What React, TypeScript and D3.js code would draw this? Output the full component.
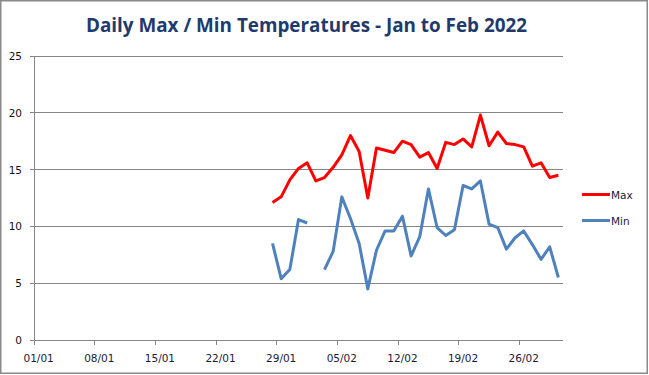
import React from "react";
import * as d3 from "d3";

const startDate = "2022-01-28";
const maxTemps: number[] = [
  12.1, 12.6, 14.1, 15.1, 15.6, 14.0, 14.3, 15.2, 16.3, 18.0, 16.6, 12.5, 16.9, 16.7, 16.5,
  17.5, 17.2, 16.1, 16.5, 15.1, 17.4, 17.2, 17.7, 17.0, 19.8, 17.1, 18.3, 17.3, 17.2, 17.0,
  15.3, 15.6, 14.3, 14.5,
];
const minTemps: (number | null)[] = [
  8.5, 5.4, 6.2, 10.6, 10.3, null, 6.2, 7.8, 12.6, 10.7, 8.5, 4.5, 7.9, 9.6, 9.6,
  10.9, 7.4, 9.1, 13.3, 9.9, 9.2, 9.7, 13.6, 13.3, 14.0, 10.2, 9.9, 8.0, 9.0, 9.6,
  8.4, 7.1, 8.2, 5.5,
];
const yTicks = [0, 5, 10, 15, 20, 25];
const xTickLabels = ["01/01", "08/01", "15/01", "22/01", "29/01", "05/02", "12/02", "19/02", "26/02"];
const title = "Daily Max / Min Temperatures - Jan to Feb 2022";

const W = 649;
const H = 375;
const left = 34.3;
const right = 562.7;
const top = 56;
const bottom = 340;

const axisStart = new Date(2022, 0, 1);
const axisEnd = new Date(2022, 2, 3);
const DAY = 86400000;

export default function App() {
  const x = d3.scaleTime().domain([axisStart, axisEnd]).range([left, right]);
  const y = d3.scaleLinear().domain([0, 25]).range([bottom, top]);
  const s = d3.timeParse("%Y-%m-%d")(startDate) as Date;
  const dates = maxTemps.map((_, i) => new Date(s.getFullYear(), s.getMonth(), s.getDate() + i));
  const cx = (d: Date) => x(new Date(d.getTime() + DAY / 2));
  const parseLabel = (l: string) => {
    const [dd, mm] = l.split("/").map(Number);
    return new Date(2022, mm - 1, dd);
  };
  const lineMax = d3
    .line<number>()
    .x((_, i) => cx(dates[i]))
    .y((v) => y(v))(maxTemps);
  const lineMin = d3
    .line<number | null>()
    .defined((v) => v !== null)
    .x((_, i) => cx(dates[i]))
    .y((v) => y(v as number))(minTemps);
  const gray = "#868686";
  const labelFont = "'DejaVu Sans', Verdana, sans-serif";
  return (
    <svg width={W} height={H} style={{ position: "absolute", left: 0, top: 0 }}>
      <rect x={0} y={0} width={W} height={H} fill="#fff" />
      <rect x={0.75} y={0.75} width={646.5} height={372.5} fill="none" stroke="#898989" strokeWidth={1.5} />
      <text
        x={306.5}
        y={32}
        textAnchor="middle"
        fontFamily="'Open Sans', sans-serif"
        fontWeight="bold"
        fontSize={20}
        fill="#1F3B6E"
        textLength={441}
        lengthAdjust="spacingAndGlyphs"
      >
        {title}
      </text>
      {yTicks.map((t) => (
        <g key={t}>
          <line x1={30} x2={right} y1={y(t)} y2={y(t)} stroke={gray} strokeWidth={1} shapeRendering="crispEdges" />
          <text x={22} y={y(t) + 4} textAnchor="end" fontFamily={labelFont} fontSize={10.5} fill="#111">
            {t}
          </text>
        </g>
      ))}
      <line x1={left} x2={left} y1={top} y2={bottom + 4} stroke={gray} shapeRendering="crispEdges" />
      {xTickLabels.map((l) => {
        const d = parseLabel(l);
        const tx = x(d);
        return (
          <g key={l}>
            <line x1={tx} x2={tx} y1={bottom} y2={bottom + 5} stroke={gray} shapeRendering="crispEdges" />
            <text x={cx(d)} y={362} textAnchor="middle" fontFamily={labelFont} fontSize={10.5} fill="#1a1a3a">
              {l}
            </text>
          </g>
        );
      })}
      <path d={lineMax || ""} fill="none" stroke="#FF0000" strokeWidth={3} strokeLinejoin="round" />
      <path d={lineMin || ""} fill="none" stroke="#4F81BD" strokeWidth={3} strokeLinejoin="round" />
      <line x1={582} x2={610} y1={194.5} y2={194.5} stroke="#FF0000" strokeWidth={3} />
      <text x={611} y={198.5} fontFamily={labelFont} fontSize={10.5} fill="#1a1a3a">
        Max
      </text>
      <line x1={582} x2={610} y1={220.5} y2={220.5} stroke="#4F81BD" strokeWidth={3} />
      <text x={611} y={224.5} fontFamily={labelFont} fontSize={10.5} fill="#1a1a3a">
        Min
      </text>
    </svg>
  );
}
